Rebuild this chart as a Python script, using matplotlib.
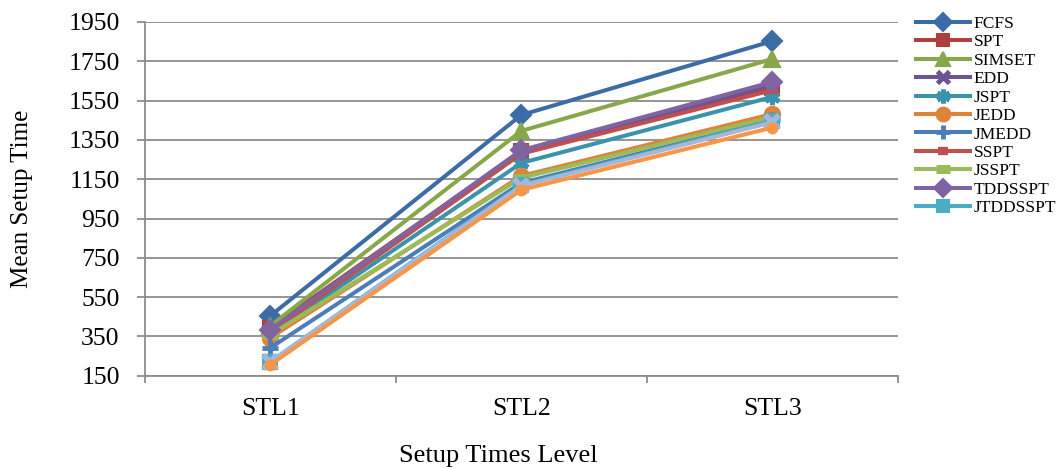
import matplotlib.pyplot as plt

plt.rcParams['font.family'] = ['Liberation Serif', 'DejaVu Serif']

# setup time levels on x axis
levels = ["STL1", "STL2", "STL3"]

# mean setup time per rule
fcfs = [455, 1477, 1853]
spt = [394, 1294, 1614]
simset = [404, 1396, 1762]
edd = [379, 1288, 1630]
jspt = [362, 1233, 1569]
jedd = [343, 1167, 1482]
jmedd = [292, 1131, 1452]
sspt = [372, 1280, 1603]
jsspt = [358, 1157, 1467]
tddsspt = [384, 1298, 1645]
jtddsspt = [221, 1121, 1447]
# two extra series drawn in the plot but missing from the legend
extra_a = [221, 1116, 1440]
extra_b = [206, 1096, 1413]

y_ticks = list(range(150, 1951, 200))

series = [
    ("FCFS", fcfs, "#3C6CA7", "D", 10, 1.5),
    ("SPT", spt, "#AD403C", "s", 10, 1.5),
    ("SIMSET", simset, "#86A74A", "^", 11, 1.5),
    ("EDD", edd, "#6D5393", "x", 9, 3.5),
    ("JSPT", jspt, "#3A92AB", (6, 2, 0), 11, 3.5),
    ("JEDD", jedd, "#DD833A", "o", 11, 1.5),
    ("JMEDD", jmedd, "#4A7EBB", "+", 11, 3.5),
    ("SSPT", sspt, "#C0504D", "_", 8, 6.0),
    ("JSSPT", jsspt, "#9BBB59", "_", 11, 6.5),
    ("TDDSSPT", tddsspt, "#8064A2", "D", 10, 1.5),
    ("JTDDSSPT", jtddsspt, "#4BACC6", "s", 10, 1.5),
    ("_nolegend_", extra_a, "#A8B7D7", "x", 10, 4.0),
    ("_nolegend_", extra_b, "#F79646", "o", 7, 1.5),
]

fig = plt.figure(figsize=(10.64, 4.68), dpi=100)
ax = fig.add_axes([0.136, 0.197, 0.708, 0.756])

x = list(range(len(levels)))
for name, vals, col, mk, ms, mew in series:
    ax.plot(x, vals, color=col, linewidth=2.9, marker=mk, markersize=ms,
            markeredgewidth=mew, markerfacecolor=col, markeredgecolor=col,
            label=name, solid_joinstyle="round", zorder=3)

ax.set_ylim(150, 1950)
ax.set_yticks(y_ticks)
ax.set_xlim(-0.5, 2.5)
ax.set_xticks(x)
ax.set_xticklabels(levels)
ax.set_xticks([-0.5, 0.5, 1.5, 2.5], minor=True)
ax.tick_params(axis="x", which="major", length=0, pad=16, labelsize=18.5)
ax.tick_params(axis="x", which="minor", length=5, color="#8c8c8c", width=1.3)
ax.tick_params(axis="y", length=6, color="#8c8c8c", width=1.3,
               labelsize=18.5, pad=12)

ax.grid(axis="y", color="#8c8c8c", linewidth=1.3)
ax.set_axisbelow(True)
for side in ["top", "right"]:
    ax.spines[side].set_visible(False)
for side in ["left", "bottom"]:
    ax.spines[side].set_color("#8c8c8c")
    ax.spines[side].set_linewidth(1.3)

ax.set_xlabel("Setup Times Level", fontsize=19)
ax.xaxis.set_label_coords(0.470, -0.195)
ax.set_ylabel("Mean Setup Time", fontsize=18)
ax.yaxis.set_label_coords(-0.148, 0.5)

fig.legend(loc="upper left", bbox_to_anchor=(0.861, 0.966), frameon=False,
           fontsize=12.5, handlelength=3.1, handletextpad=0.2,
           labelspacing=0.13, borderaxespad=0, borderpad=0, markerscale=0.9)

fig.savefig("out.png", dpi=100)
